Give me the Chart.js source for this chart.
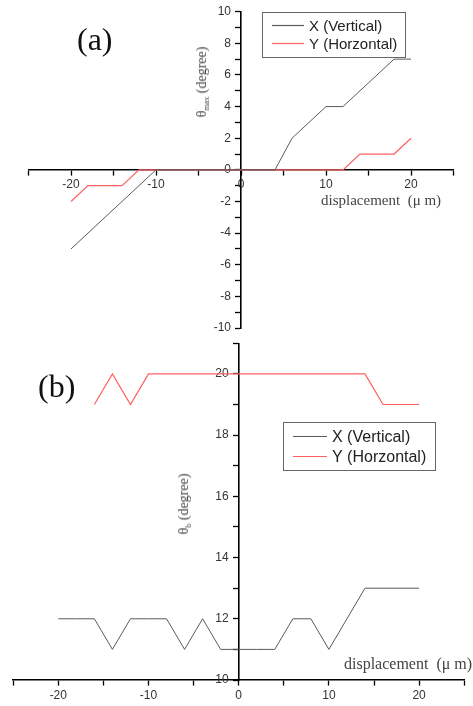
<!DOCTYPE html>
<html><head><meta charset="utf-8">
<script src="https://cdn.jsdelivr.net/npm/chart.js@4.4.0/dist/chart.umd.min.js"></script>
<style>
html,body{margin:0;padding:0;background:#fff;}
#wrap{position:relative;width:473px;height:706px;overflow:hidden;background:#fff;}
canvas{position:absolute;left:0;}
.serif{position:absolute;font-family:"Liberation Serif","Times New Roman",serif;color:#222;white-space:nowrap;line-height:1;}
.panel{font-size:32px;color:#111;}
.xt{font-size:15px;color:#444;}
.yt{font-size:14px;color:#444;transform:translate(-50%,-50%) rotate(-90deg);}
.yt sub{font-size:8px;vertical-align:-3px;}
</style></head>
<body><div id="wrap">
<canvas id="ca" width="473" height="345" style="top:0px"></canvas>
<canvas id="cb" width="473" height="381" style="top:325px"></canvas>
<div class="serif panel" style="left:77px;top:23px;">(a)</div>
<div class="serif panel" style="left:38px;top:370px;">(b)</div>
<div class="serif xt" style="left:321px;top:193px;">displacement&nbsp;&nbsp;(μ&nbsp;m)</div>
<div class="serif xt" style="left:344px;top:656px;font-size:16px;">displacement&nbsp;&nbsp;(μ&nbsp;m)</div>
<div class="serif yt" style="left:203px;top:82px;">θ<sub>max</sub> (degree)</div>
<div class="serif yt" style="left:185px;top:504px;">θ<sub>b</sub> (degree)</div>
</div>
<script>
// ---- data ----
const displacement = [-20,-18,-16,-14,-12,-10,-8,-6,-4,-2,0,2,4,6,8,10,12,14,16,18,20];
const thetaMaxVertical   = [-5,-4,-3,-2,-1,0,0,0,0,0,0,0,0,2,3,4,4,5,6,7,7];
const thetaMaxHorizontal = [-2,-1,-1,-1,0,0,0,0,0,0,0,0,0,0,0,0,0,1,1,1,2];
const thetaBVertical     = [12,12,12,11,12,12,12,11,12,11,11,11,11,12,12,11,12,13,13,13,13];
const thetaBHorizontal   = [null,null,19,20,19,20,20,20,20,20,20,20,20,20,20,20,20,20,19,19,19];
const seriesLabels = ['X (Vertical)', 'Y (Horzontal)'];
const xTickLabels = [-20,-10,0,10,20];
const aYTickLabels = [-10,-8,-6,-4,-2,0,2,4,6,8,10];
const bYTickLabels = [10,12,14,16,18,20];

const BLACK = '#5a5a5a', RED = '#ff6060';
const pts = (ys) => displacement.map((x,i) => ({x, y: ys[i]}));

const boxLegend = {
  id: 'boxLegend',
  afterDatasetsDraw(chart, args, o) {
    const ctx = chart.ctx; ctx.save();
    ctx.fillStyle = '#fff';
    ctx.fillRect(o.x, o.y, o.w, o.h);
    ctx.strokeStyle = '#666'; ctx.lineWidth = 1;
    ctx.strokeRect(Math.round(o.x)+0.5, Math.round(o.y)+0.5, o.w, o.h);
    ctx.font = o.font; ctx.textBaseline = 'middle'; ctx.textAlign = 'left';
    chart.data.datasets.forEach((ds, i) => {
      const yy = Math.round(o.y + o.first + i*o.gap) + 0.5;
      ctx.strokeStyle = ds.borderColor; ctx.lineWidth = 1.2;
      ctx.beginPath(); ctx.moveTo(o.x + o.lineX, yy); ctx.lineTo(o.x + o.lineX + o.lineW, yy); ctx.stroke();
      ctx.fillStyle = '#222';
      ctx.fillText(ds.label, o.x + o.textX, yy + 1);
    });
    ctx.restore();
  }
};

const tickFont = {family: '"Liberation Sans", Arial, sans-serif', size: 12};

function makeChart(id, ys1, ys2, yMin, yMax, yLabels, xCross, yCross, pad, legend) {
  return new Chart(document.getElementById(id), {
    type: 'line',
    data: { datasets: [
      {label: seriesLabels[0], data: pts(ys1), borderColor: BLACK, borderWidth: 1, pointRadius: 0, tension: 0, spanGaps: false},
      {label: seriesLabels[1], data: pts(ys2), borderColor: RED, borderWidth: 1.2, pointRadius: 0, tension: 0, spanGaps: false}
    ]},
    options: {
      responsive: false, animation: false, events: [],
      layout: {padding: pad},
      plugins: {legend: {display: false}, tooltip: {enabled: false}, boxLegend: legend},
      scales: {
        x: {
          type: 'linear', min: -25, max: 25, position: {y: xCross},
          grid: {drawOnChartArea: false, drawTicks: true, tickLength: 5, tickColor: '#000', tickWidth: 1.3},
          border: {display: true, color: '#000', width: 1.6},
          ticks: {stepSize: 5, autoSkip: false, maxRotation: 0, padding: 3, color: '#333', font: tickFont,
            callback: (v) => xTickLabels.includes(v) ? String(v) : ''}
        },
        y: {
          type: 'linear', min: yMin, max: yMax, position: {x: yCross},
          grid: {drawOnChartArea: false, drawTicks: true, tickLength: 5, tickColor: '#000', tickWidth: 1.3},
          border: {display: true, color: '#000', width: 1.6},
          ticks: {stepSize: 1, autoSkip: false, padding: 3, color: '#333', font: tickFont,
            // centre-positioned axes draw labels right-aligned on the axis line; trailing spaces push them clear of the ticks
            callback: (v) => yLabels.includes(v) ? String(v) + '   ' : ''}
        }
      }
    },
    plugins: [boxLegend]
  });
}

makeChart('ca', thetaMaxVertical, thetaMaxHorizontal, -10, 10, aYTickLabels, 0, 0,
  {left: 28.5, right: 19.5, top: 11.7, bottom: 17},
  {x: 262, y: 12, w: 143, h: 45, first: 13, gap: 18, lineX: 10, lineW: 32, textX: 47, font: '15px "Liberation Sans", Arial, sans-serif'});

makeChart('cb', thetaBVertical, thetaBHorizontal, 10, 21, bYTickLabels, 10, 0,
  {left: 13.2, right: 8.8, top: 18.3, bottom: 26},
  {x: 283, y: 96.7, w: 152, h: 48, first: 14.3, gap: 20, lineX: 10, lineW: 34, textX: 49, font: '16px "Liberation Sans", Arial, sans-serif'});
</script>
</body></html>
